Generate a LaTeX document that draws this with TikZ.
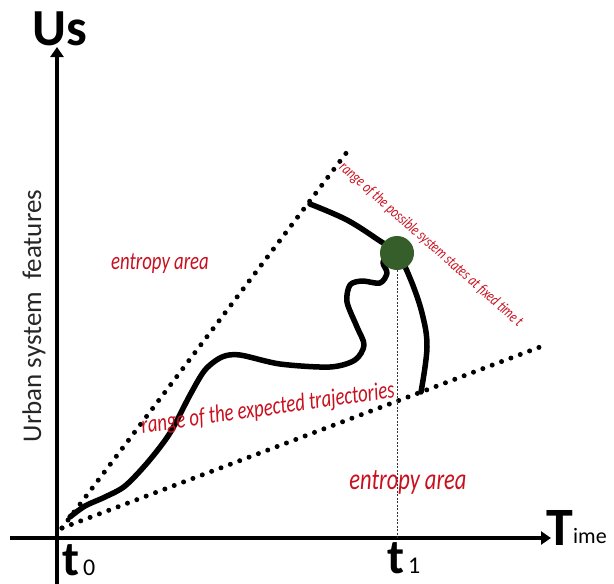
\documentclass[tikz,border=0pt]{standalone}
\usepackage{fontspec}
\setmainfont{Carlito}
\newfontfamily\labelfont[FakeStretch=0.75]{Carlito}
\usetikzlibrary{arrows.meta}
\definecolor{labelred}{RGB}{200,16,30}
\definecolor{stategreen}{RGB}{53,94,43}
\tikzset{
  axis line/.style={
    line width=3.5pt,
    -{Triangle[width=13pt,length=10pt]}
  },
  bound dots/.style={
    line width=5pt,
    line cap=round,
    dash pattern=on 0pt off 10pt
  },
  path line/.style={
    line width=5.5pt,
    line cap=round,
    line join=round
  },
  area label/.style={
    font=\labelfont\itshape\fontsize{25}{25}\selectfont,
    color=labelred,
    inner sep=0pt
  },
  axis label/.style={
    font=\bfseries,
    inner sep=0pt
  },
  state dot/.style={
    circle,
    fill=stategreen,
    inner sep=0pt,
    minimum size=34pt
  }
}

\begin{document}
\begin{tikzpicture}[x=1pt, y=-1pt]
  \useasboundingbox (0,0) rectangle (614,584);

  %% ---- axes ----
  \coordinate (O) at (57,538);
  \coordinate (Ybot) at (57,584);
  \coordinate (Ytop) at (57,47);
  \coordinate (Xleft) at (10,538);
  \coordinate (Xright) at (551,538);
  \draw[axis line] (Ybot) -- (Ytop);
  \draw[axis line] (Xleft) -- (Xright);

  % axis titles
  \node[axis label, anchor=base, font=\bfseries\fontsize{52}{52}\selectfont] (us) at (60,45) {Us};
  \node[axis label, anchor=base west, font=\bfseries\fontsize{54}{54}\selectfont] (T) at (546,545) {T};
  \node[inner sep=0pt, anchor=base west, font=\fontsize{22}{22}\selectfont] (ime) at (573,543) {ime};
  \node[inner sep=0pt, rotate=90, font=\fontsize{27}{27}\selectfont, color=black!85] (feat) at (34,316)
      {Urban system\ \ features};

  % time marks
  \node[axis label, anchor=base west, font=\bfseries\fontsize{49}{49}\selectfont] (t0) at (62,575)
      {t\textmd{\fontsize{24}{24}\selectfont\,0}};
  \node[axis label, anchor=base west, font=\bfseries\fontsize{49}{49}\selectfont] (t1) at (387,573)
      {t\textmd{\fontsize{24}{24}\selectfont\,1}};

  %% ---- bounds of the expected trajectories ----
  \coordinate (B0) at (62,528);
  \coordinate (Bup) at (350,148);
  \coordinate (Blow) at (540,347);
  \draw[bound dots] (B0) -- (Bup);
  \draw[bound dots] (B0) -- (Blow);

  %% ---- range of the states at t1 ----
  \draw[path line] plot[smooth, tension=0.6] coordinates {
    (310,204) (347,220) (380,241) (397,253) (410,278) (422,313) (427,347) (421,392)};

  % trajectory from t0 to the state
  \draw[path line] plot[smooth, tension=0.5] coordinates {
    (70,517) (85,506) (105,497) (125,486) (148,462) (170,433) (190,395)
    (205,370) (222,357) (240,355) (280,364) (330,367) (355,360) (364,345)
    (357,327) (347,302) (350,285) (362,281) (380,283) (387,273) (383,262) (392,254)};

  % state at fixed time t1
  \node[state dot] (state) at (397,253) {};
  \coordinate (t1axis) at (397,538);
  \draw[line width=0.6pt, dash pattern=on 2pt off 1.5pt, black!80] (state.south) -- (t1axis);

  %% ---- labels ----
  \node[area label] (entUp) at (160,264) {entropy area};
  \node[area label, font=\labelfont\itshape\fontsize{30}{30}\selectfont] (entLow) at (408,482) {entropy area};
  \node[area label, rotate=8] (expected) at (268,409)
      {range of the expected trajectories};
  \node[area label, rotate=-41.5, font=\labelfont\itshape\fontsize{16}{16}\selectfont] (possible) at (431,245)
      {range of the possible system states at fixed time t};

\end{tikzpicture}
\end{document}
